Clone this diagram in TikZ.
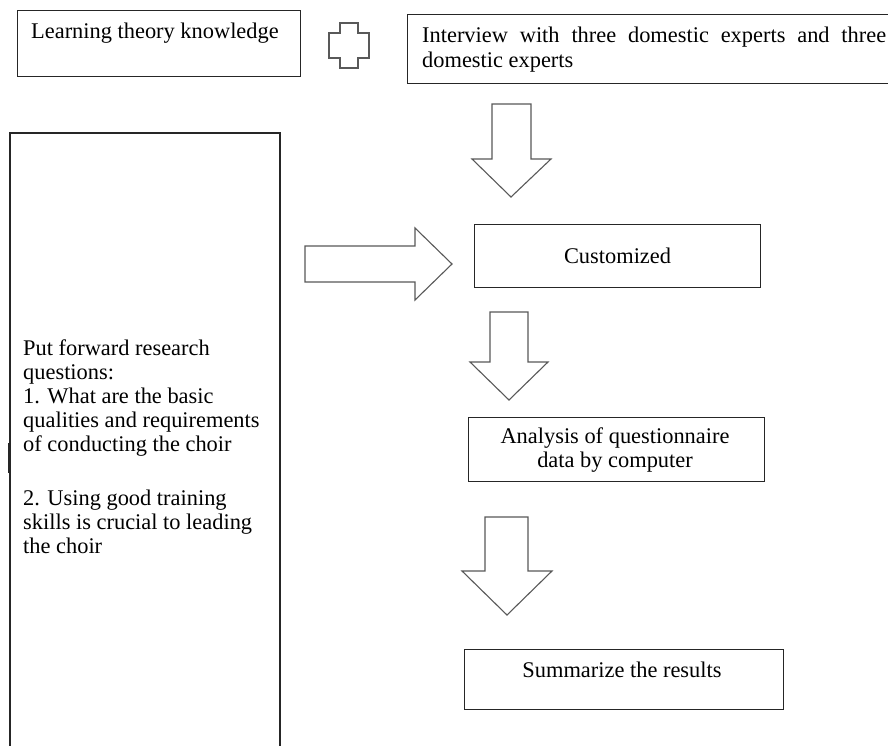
\documentclass[tikz,border=0pt]{standalone}
\usepackage{fontspec}
\setmainfont{Liberation Serif}
\begin{document}
\begin{tikzpicture}[x=1pt,y=-1pt,
  boxstyle/.style={draw=black!85, line width=1.1pt, rectangle, inner sep=0pt, anchor=north west},
  blockarrow/.style={draw=black!65, line width=1.1pt, fill=white, line join=miter},
  txt/.style={inner sep=0pt, font=\fontsize{22.4}{24}\selectfont},
]
\useasboundingbox (0,0) rectangle (888,746);
\fill[white] (0,0) rectangle (888,746);

% top-left box
\node[boxstyle, minimum width=283pt, minimum height=66pt] (b1) at (17,10) {};
\node[txt, anchor=base west] (t1) at (31,39) {Learning theory knowledge};

% plus sign
\draw[blockarrow] (340,23) -- (358,23) -- (358,33) -- (369,33) -- (369,58) -- (358,58)
  -- (358,68) -- (340,68) -- (340,58) -- (329,58) -- (329,33) -- (340,33) -- cycle;

% top-right box
\node[boxstyle, minimum width=480.5pt, minimum height=69pt] (b2) at (407,14) {};
\node[txt, anchor=base west] (t2) at (422,43) {\parbox[t]{465pt}{\fontsize{22.4}{25}\selectfont
  \makebox[464pt][s]{Interview with three domestic experts and three}\\
  domestic experts}};

% left tall box
\coordinate (lbA) at (10,760);
\coordinate (lbB) at (10,133);
\coordinate (lbC) at (280,133);
\coordinate (lbD) at (280,760);
\draw[draw=black!85, line width=1.1pt] (lbA) -- (lbB) -- (lbC) -- (lbD);
\coordinate (tickA) at (8.5,443);
\coordinate (tickB) at (8.5,473);
\draw[black!85, line width=1.6pt] (tickA) -- (tickB);
\node[txt, anchor=base west] (t3) at (23,355) {\parbox[t]{300pt}{\raggedright\fontsize{22.4}{24}\selectfont
  Put forward research\\
  questions:\\
  1. What are the basic\\
  qualities and requirements\\
  of conducting the choir\\[30pt]
  2. Using good training\\
  skills is crucial to leading\\
  the choir}};

% arrow 1 (down)
\draw[blockarrow] (492,104) -- (531,104) -- (531,159) -- (551,159) -- (511,197)
  -- (472,159) -- (492,159) -- cycle;

% right arrow
\draw[blockarrow] (305,246) -- (415,246) -- (415,228) -- (452,264) -- (415,300)
  -- (415,282) -- (305,282) -- cycle;

% Customized
\node[boxstyle, minimum width=286pt, minimum height=63pt] (b4) at (474,224) {};
\node[txt] (t4) at (b4.center) {Customized};

% arrow 2
\draw[blockarrow] (490,312) -- (528,312) -- (528,362) -- (548,362) -- (509,400)
  -- (470,362) -- (490,362) -- cycle;

% Analysis box
\node[boxstyle, minimum width=296pt, minimum height=64pt] (b5) at (468,417) {};
\node[txt, align=center] (t5) at (615,450) {Analysis of questionnaire\\data by computer};

% arrow 3
\draw[blockarrow] (485,517) -- (528,517) -- (528,571) -- (552,571) -- (507,615)
  -- (462,571) -- (485,571) -- cycle;

% Summarize box
\node[boxstyle, minimum width=319pt, minimum height=60pt] (b6) at (464,649) {};
\node[txt, anchor=base] (t6) at (622,677) {Summarize the results};
\end{tikzpicture}
\end{document}
